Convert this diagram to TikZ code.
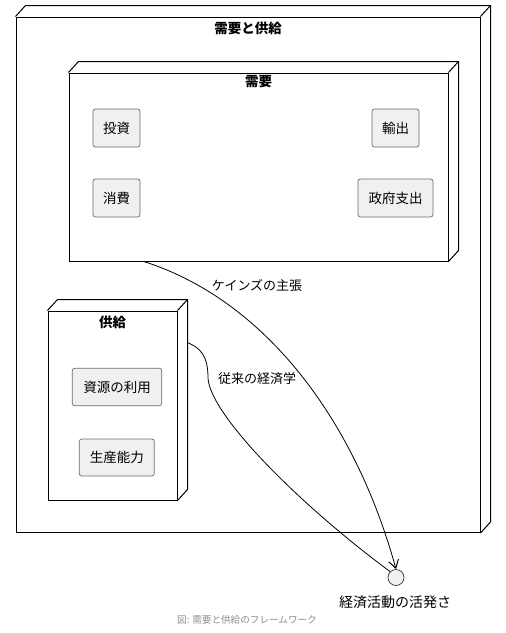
\documentclass[tikz,border=0pt]{standalone}
\usepackage{fontspec}
\setmainfont{Noto Sans CJK JP}
\usetikzlibrary{calc,arrows.meta}
\tikzset{
  frame/.style={draw=black, line width=1pt, fill=white, inner sep=0pt},
  item/.style={draw=gray!85!black, fill=black!6, rounded corners=2.5pt, line width=0.7pt, inner sep=0pt, minimum height=38pt, font=\fontsize{13.5}{16}\selectfont},
  ttl/.style={font=\bfseries\fontsize{13.5}{16}\selectfont},
  lbl/.style={font=\fontsize{13}{15}\selectfont},
  conn/.style={line width=0.8pt, black},
}
\newcommand{\depthsides}[1]{%
  \draw[line width=1pt] (#1.north west) -- ++(10,-11) -| ($(#1.south east)+(10,-11)$) -- (#1.south east);
  \draw[line width=1pt] (#1.north east) -- ++(10,-11);
}
\begin{document}
\begin{tikzpicture}[x=1pt,y=-1pt]
\useasboundingbox (0,0) rectangle (506,633);
% outer
\node[frame, minimum width=464pt, minimum height=515.5pt] (outer) at (248,274.75) {};
\depthsides{outer}
\node[ttl] (outerttl) at (248,28) {需要と供給};
% demand
\node[frame, minimum width=379pt, minimum height=188pt] (demand) at (258.5,167) {};
\depthsides{demand}
\node[ttl] (demandttl) at (258.5,82) {需要};
\node[item, minimum width=47pt] (inv) at (116.5,128) {投資};
\node[item, minimum width=47pt] (exp) at (395.5,128) {輸出};
\node[item, minimum width=47pt] (cons) at (116.5,198) {消費};
\node[item, minimum width=75pt] (gov) at (395.5,198) {政府支出};
% supply
\node[frame, minimum width=129pt, minimum height=189pt] (supply) at (112.5,405.5) {};
\depthsides{supply}
\node[ttl] (supplyttl) at (112.5,322) {供給};
\node[item, minimum width=89.5pt, minimum height=37.5pt] (res) at (117,387) {資源の利用};
\node[item, minimum width=75pt, minimum height=37pt] (prod) at (116.8,457.5) {生産能力};
% target
\node[circle, draw=black!80, fill=black!6, line width=0.7pt, minimum size=16pt, inner sep=0pt] (act) at (396,577.5) {};
\node[font=\fontsize{14}{16}\selectfont] (actlbl) at (395,602) {経済活動の活発さ};
% connectors
\coordinate (k0) at ($(demand.south west)!0.198!(demand.south east)$);
\draw[conn, -{Straight Barb[length=8pt,width=10pt,line width=1pt]}] (k0) .. controls (265,300) and (355,420) .. (act.north);
\node[lbl] (klbl) at (257,286) {ケインズの主張};
\coordinate (t0) at ($(supply.north east)+(10,32)$);
\draw[conn] (t0) .. controls (200,348) and (208,355) .. (208,378) .. controls (210,415) and (300,505) .. (act.north west);
\node[lbl] (tlbl) at (257,379) {従来の経済学};
% caption
\node[font=\fontsize{9.6}{11}\selectfont, text=black!45] (cap) at (247,620) {図: 需要と供給のフレームワーク};
\end{tikzpicture}
\end{document}
